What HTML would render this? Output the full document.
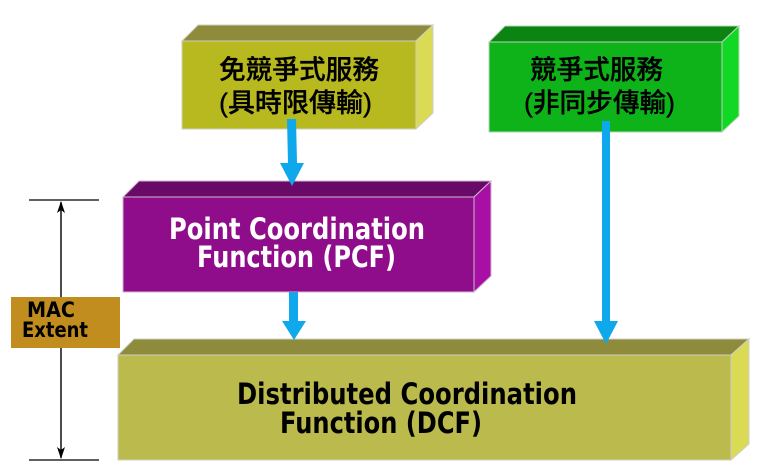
<!DOCTYPE html>
<html lang="zh-Hant">
<head>
<meta charset="utf-8">
<title>MAC Extent</title>
<style>
html,body{margin:0;padding:0;background:#fff;width:776px;height:475px;overflow:hidden}
svg{display:block}
.l{font-family:"DejaVu Sans","Liberation Sans",sans-serif;font-weight:700}
.c{font-family:"Liberation Sans","Noto Sans CJK TC",sans-serif;font-weight:500;fill:#000;stroke:#000;stroke-width:.35px;font-size:26.5px}
</style>
</head>
<body>
<svg width="776" height="475" viewBox="0 0 776 475" xmlns="http://www.w3.org/2000/svg">
  <!-- Box 1 -->
  <g stroke="#cfcfc4" stroke-width="1">
    <polygon points="182,41 198,25 433,25 416,41" fill="#8E8C3C"/>
    <polygon points="416,41 433,25 433,113 416,129" fill="#DADA55"/>
    <rect x="182" y="41" width="234" height="88" fill="#B8B91E"/>
  </g>
  <!-- Box 2 -->
  <g stroke="#b9d6b9" stroke-width="1">
    <polygon points="489,42 505,26 739,26 722,42" fill="#0C8412"/>
    <polygon points="722,42 739,26 739,116 722,132" fill="#10D824"/>
    <rect x="489" y="42" width="233" height="90" fill="#0EB31A"/>
  </g>
  <!-- Box 3 -->
  <g stroke="#cdb9cd" stroke-width="1">
    <polygon points="123,197 139,181 491,181 474,197" fill="#6A0A68"/>
    <polygon points="474,197 491,181 491,276 474,292" fill="#A80FA4"/>
    <rect x="123" y="197" width="351" height="95" fill="#8F0D8B"/>
  </g>
  <!-- Box 4 -->
  <g stroke="#cfcfc8" stroke-width="1">
    <polygon points="118,355 134,339 749,339 731,355" fill="#8E8C3C"/>
    <polygon points="731,355 749,339 749,444 731,460" fill="#DADA55"/>
    <rect x="118" y="355" width="613" height="105" fill="#BBBA4C"/>
  </g>

  <!-- Blue arrows -->
  <g fill="#0FA8EC">
    <polygon points="287,119 296,119 297,163 304,163 292,186 280,163 288,163"/>
    <polygon points="289,292 298,292 298,321 306,321 294,340 282,321 289,321"/>
    <polygon points="602,121 610,121 610,321 618,321 606,344 594,321 602,321"/>
  </g>

  <!-- Extent bracket -->
  <g stroke="#000" fill="none">
    <line x1="29" y1="200" x2="99" y2="200" stroke-width="1.3"/>
    <line x1="29" y1="460" x2="99" y2="460" stroke-width="1.3"/>
    <line x1="61" y1="202" x2="61" y2="297" stroke-width="1.4"/>
    <line x1="61" y1="348" x2="61" y2="458" stroke-width="1.4"/>
  </g>
  <polygon points="61,201 65,213 61,210 57,213" fill="#000"/>
  <polygon points="61,459 65,447 61,450 57,447" fill="#000"/>

  <!-- MAC box -->
  <rect x="11" y="297" width="109" height="51" fill="#C18D1F"/>
  <text class="l" x="27" y="317" font-size="21" fill="#000" textLength="48" lengthAdjust="spacingAndGlyphs">MAC</text>
  <text class="l" x="22" y="337" font-size="21" fill="#000" textLength="66" lengthAdjust="spacingAndGlyphs">Extent</text>

  <!-- Chinese labels -->
  <text class="c" x="219" y="79" textLength="160" lengthAdjust="spacingAndGlyphs">免競爭式服務</text>
  <text class="c" x="219" y="112" textLength="153" lengthAdjust="spacingAndGlyphs">(具時限傳輸)</text>
  <text class="c" x="530" y="79" textLength="133" lengthAdjust="spacingAndGlyphs">競爭式服務</text>
  <text class="c" x="524" y="112" textLength="151" lengthAdjust="spacingAndGlyphs">(非同步傳輸)</text>

  <!-- PCF labels -->
  <text class="l" x="169" y="239" font-size="29" fill="#fff" textLength="256" lengthAdjust="spacingAndGlyphs">Point Coordination</text>
  <text class="l" x="197" y="267" font-size="29" fill="#fff" textLength="199" lengthAdjust="spacingAndGlyphs">Function (PCF)</text>

  <!-- DCF labels -->
  <text class="l" x="237" y="404" font-size="29" fill="#000" textLength="340" lengthAdjust="spacingAndGlyphs">Distributed Coordination</text>
  <text class="l" x="280" y="433" font-size="29" fill="#000" textLength="202" lengthAdjust="spacingAndGlyphs">Function (DCF)</text>
</svg>
</body>
</html>
